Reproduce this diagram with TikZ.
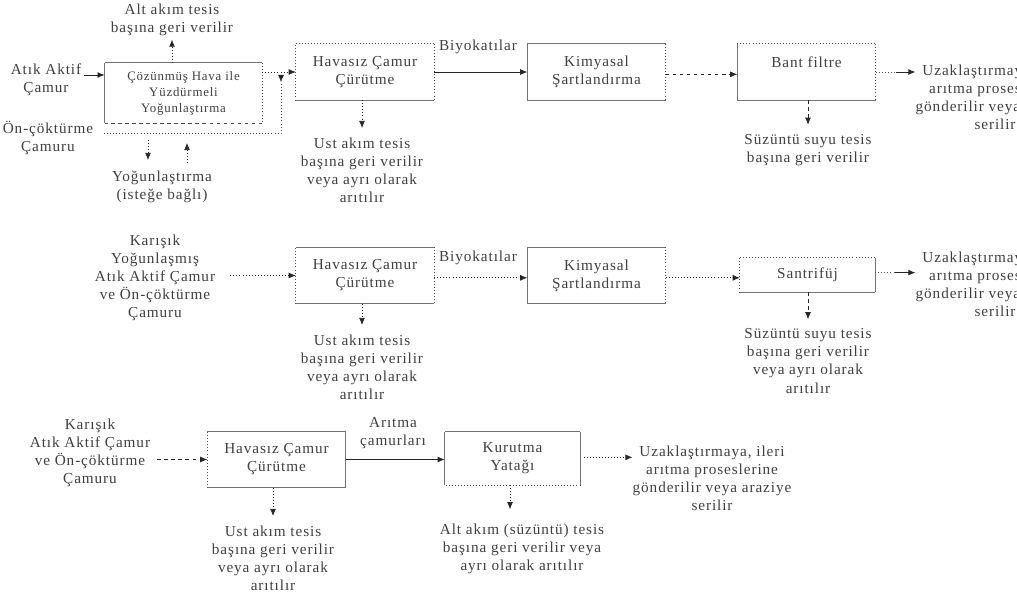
\documentclass[tikz,border=0pt]{standalone}
\usepackage{fontspec}
\setmainfont{Liberation Serif}[LetterSpace=6]
\usetikzlibrary{arrows.meta}

\tikzset{
  lbl/.style={align=center, font=\fontsize{13}{15.4}\selectfont, text=black!75, inner sep=0pt},
  unit/.style={minimum width=4.14cm, minimum height=1.68cm, inner sep=0pt, align=center,
    font=\fontsize{13}{15.4}\selectfont, text=black!75},
  sl/.style={draw=black!55, semithick},
  dl/.style={draw=black!70, dotted, semithick},
  dsh/.style={draw=black!70, dashed, semithick},
  arr/.style={-{Latex[length=6pt,width=5pt]}, black!85},
}

\newcommand{\boxsides}[5]{% name, top, right, bottom, left
  \draw[#2] (#1.north west) -- (#1.north east);
  \draw[#3] (#1.north east) -- (#1.south east);
  \draw[#4] (#1.south east) -- (#1.south west);
  \draw[#5] (#1.south west) -- (#1.north west);}

\begin{document}
\begin{tikzpicture}[x=0.03cm, y=-0.03cm]
\useasboundingbox (0,0) rectangle (1017,599);
\clip (0,0) rectangle (1017,599);

%% first line
\node[unit, minimum width=4.71cm, minimum height=1.8cm, font=\fontsize{11}{13.6}\selectfont] (yuz) at (183.5,93) {Çözünmüş Hava ile\\Yüzdürmeli\\Yoğunlaştırma};
\node[unit] (hav1) at (365,72) {Havasız Çamur\\Çürütme};
\node[unit] (kim1) at (596.5,72) {Kimyasal\\Şartlandırma};
\node[unit] (bant) at (806.5,72) {};
\node[lbl] at ([yshift=-0.55cm]bant.north) {Bant filtre};

\node[lbl] (atik) at (46,80) {Atık Aktif\\Çamur};
\node[lbl] (onc) at (48,138) {Ön-çöktürme\\Çamuru};
\node[lbl] (alt1) at (172,20) {Alt akım tesis\\başına geri verilir};
\node[lbl] (yog) at (162,187) {Yoğunlaştırma\\(isteğe bağlı)};
\node[lbl] (ust1) at (362,170) {Ust akım tesis\\başına geri verilir\\veya ayrı olarak\\arıtılır};
\node[lbl] (biyo1) at (478,47) {Biyokatılar};
\node[lbl] (suz1) at (808,150) {Süzüntü suyu tesis\\başına geri verilir};
\node[lbl] (uzak1) at (995,97) {Uzaklaştırmaya, ileri\\arıtma proseslerine\\gönderilir veya araziye\\serilir};

\boxsides{yuz}{sl}{dl}{dsh}{sl}
\boxsides{hav1}{dl}{dl}{sl}{dl}
\boxsides{kim1}{sl}{dl}{sl}{sl}
\boxsides{bant}{dl}{dl}{sl}{sl}

\coordinate (a1) at (84,75);
\coordinate (j1) at (281,82);
\coordinate (y1) at (148,140);
\coordinate (y2) at (187,163);

\draw[arr, thick] (a1) -- (a1 -| yuz.west);
\draw[dl, arr] (alt1.south |- yuz.north) -- ([yshift=-3pt]alt1.south);
\draw[dl, arr] (yuz.east |- hav1) -- (hav1.west);
\draw[dl] ([xshift=9pt]onc.east |- 0,133) -| (j1);
\draw[arr] ([yshift=6pt]j1) -- (j1);
\draw[dl, arr] (y1) -- ++(0,20);
\draw[dl, arr] (y2) -- ++(0,-20);
\draw[dl, arr] (ust1.north |- hav1.south) -- ([yshift=8pt]ust1.north);
\draw[sl, arr] (hav1.east) -- (kim1.west);
\draw[dsh, arr] ([yshift=-2pt]kim1.east) -- ([yshift=-2pt]bant.west);
\draw[dsh, arr] (suz1.north |- bant.south) -- ([yshift=8pt]suz1.north);
\draw[dl] (bant.east) -- ++(20,0) coordinate (k1);
\draw[arr, thick] (k1) -- (k1 -| uzak1.west);

%% second line
\node[unit] (hav2) at (365,275.5) {Havasız Çamur\\Çürütme};
\node[unit] (kim2) at (596.5,275.5) {Kimyasal\\Şartlandırma};
\node[unit, minimum width=4.05cm, minimum height=1.02cm] (sant) at (807.5,275) {Santrifüj};

\node[lbl] (kar2) at (155,278) {Karışık\\Yoğunlaşmış\\Atık Aktif Çamur\\ve Ön-çöktürme\\Çamuru};
\node[lbl] (ust2) at (362,367) {Ust akım tesis\\başına geri verilir\\veya ayrı olarak\\arıtılır};
\node[lbl] (biyo2) at (478,258) {Biyokatılar};
\node[lbl] (suz2) at (808,361) {Süzüntü suyu tesis\\başına geri verilir\\veya ayrı olarak\\arıtılır};
\node[lbl] (uzak2) at (995,284) {Uzaklaştırmaya, ileri\\arıtma proseslerine\\gönderilir veya araziye\\serilir};

\boxsides{hav2}{sl}{dl}{sl}{dl}
\boxsides{kim2}{sl}{dl}{sl}{sl}
\boxsides{sant}{dl}{sl}{sl}{dl}

\draw[dl, arr] (kar2.east |- hav2) ++(15,0) -- (hav2.west);
\draw[dl, arr] (ust2.north |- hav2.south) -- ([yshift=8pt]ust2.north);
\draw[dl, arr] ([yshift=-2pt]hav2.east) -- ([yshift=-2pt]kim2.west);
\draw[dl, arr] ([yshift=-2pt]kim2.east) -- ([yshift=-2pt]kim2.east -| sant.west);
\draw[dsh, arr] (suz2.north |- sant.south) -- ([yshift=8pt]suz2.north);
\draw[dl] ([yshift=2pt]sant.east) -- ++(20,0) coordinate (k2);
\draw[arr, thick] (k2) -- (k2 -| uzak2.west);

%% third line
\node[unit] (hav3) at (276.5,459.5) {Havasız Çamur\\Çürütme};
\node[unit, minimum width=4.05cm, minimum height=1.59cm] (kur) at (512.5,458.5) {Kurutma\\Yatağı};

\node[lbl] (kar3) at (90,453) {Karışık\\Atık Aktif Çamur\\ve Ön-çöktürme\\Çamuru};
\node[lbl] (ust3) at (273,558) {Ust akım tesis\\başına geri verilir\\veya ayrı olarak\\arıtılır};
\node[lbl] (arit) at (393,433) {Arıtma\\çamurları};
\node[lbl] (alt3) at (522,549) {Alt akım (süzüntü) tesis\\başına geri verilir veya\\ayrı olarak arıtılır};
\node[lbl] (uzak3) at (712,478) {Uzaklaştırmaya, ileri\\arıtma proseslerine\\gönderilir veya araziye\\serilir};

\boxsides{hav3}{sl}{sl}{sl}{dl}
\boxsides{kur}{sl}{sl}{dl}{sl}

\coordinate (k3) at (510,0);
\draw[dsh, arr] ([xshift=6pt]kar3.east |- hav3) -- (hav3.west);
\draw[dl, arr] (ust3.north |- hav3.south) -- ([yshift=8pt]ust3.north);
\draw[sl, arr, thick] (hav3.east) -- (hav3.east -| kur.west);
\draw[dl, arr] (k3 |- kur.south) -- ++(0,24);
\draw[dl, arr] ([xshift=3pt,yshift=1pt]kur.east) -- ([yshift=1pt]kur.east -| uzak3.west);
\end{tikzpicture}
\end{document}
